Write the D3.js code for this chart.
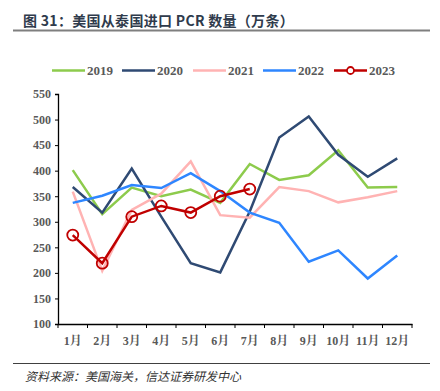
<!DOCTYPE html>
<html><head><meta charset="utf-8">
<script src="https://cdn.jsdelivr.net/npm/d3@7"></script>
<style>body{margin:0;background:#fff}</style>
</head><body>
<script>
const months = ["1月","2月","3月","4月","5月","6月","7月","8月","9月","10月","11月","12月"];
const years = ["2019","2020","2021","2022","2023"];
const colors = ["#8DCB4C","#2F4A73","#FFB3B3","#2E86FF","#C00000"];
const v2019 = [401,315,367,350,363,337,413,382,391,440,367,368];
const v2020 = [368,318,404,310,219,201,320,465,506,431,388,424];
const v2021 = [359,204,323,355,418,313,308,368,360,338,348,360];
const v2022 = [337,351,372,366,395,360,318,298,222,244,189,234];
const v2023 = [274,219,310,331,318,350,364];
const yTicks = [100,150,200,250,300,350,400,450,500,550];
const series = [v2019,v2020,v2021,v2022,v2023];

const W=440,H=391;
const svg=d3.select("body").append("svg").attr("width",W).attr("height",H);
const serif='"Liberation Serif","Times New Roman","Noto Serif CJK SC","Noto Sans CJK SC",serif';

svg.append("text").attr("x",23).attr("y",26).attr("font-family",'"Noto Sans CJK SC",sans-serif')
  .attr("font-weight","bold").attr("font-size",14).attr("letter-spacing",0.3).attr("fill","#2F3B4C")
  .text("图 31：美国从泰国进口 PCR 数量（万条）");
svg.append("line").attr("x1",13).attr("x2",430).attr("y1",30.5).attr("y2",30.5).attr("stroke","#7F7F7F").attr("stroke-width",2);
svg.append("line").attr("x1",13).attr("x2",430).attr("y1",363.5).attr("y2",363.5).attr("stroke","#404040").attr("stroke-width",1);
svg.append("text").attr("x",25).attr("y",381).attr("font-family",'"Noto Sans CJK SC",sans-serif')
  .attr("font-style","italic").attr("font-size",12).attr("fill","#333")
  .text("资料来源：美国海关，信达证券研发中心");

const x=d3.scaleBand().domain(months).range([58,412]);
const y=d3.scaleLinear().domain([100,550]).range([324,94]);

const gy=svg.append("g").attr("transform","translate(58,0)").call(d3.axisLeft(y).tickValues(yTicks).tickSize(3).tickPadding(4));
const gx=svg.append("g").attr("transform","translate(0,324)").call(d3.axisBottom(x).tickSize(0).tickPadding(12));
const bounds=months.map(m=>x(m)).concat([412]);
gx.selectAll(".bt").data(bounds).enter().append("line").attr("x1",d=>d).attr("x2",d=>d).attr("y1",0).attr("y2",4).attr("stroke","#000");
[gy,gx].forEach(g=>{g.select(".domain").attr("stroke","#000").attr("stroke-width",1.3);
  g.selectAll("text").attr("font-family",serif).attr("font-weight","bold").attr("font-size",12).attr("fill","#595959");
  g.selectAll(".tick line").attr("stroke","#000");});

const line=d3.line().x((d,i)=>x(months[i])+x.bandwidth()/2).y(d=>y(d));
series.forEach((s,k)=>{
  svg.append("path").datum(s).attr("d",line).attr("fill","none").attr("stroke",colors[k]).attr("stroke-width",2.5);
});
svg.selectAll(".m").data(v2023).enter().append("circle")
  .attr("cx",(d,i)=>x(months[i])+x.bandwidth()/2).attr("cy",d=>y(d)).attr("r",5.5)
  .attr("fill","none").attr("stroke","#C00000").attr("stroke-width",1.8);

const lx=[52,122,193,263,334];
years.forEach((yr,k)=>{
  const g=svg.append("g");
  g.append("line").attr("x1",lx[k]).attr("x2",lx[k]+33).attr("y1",70.5).attr("y2",70.5).attr("stroke",colors[k]).attr("stroke-width",2.5);
  if(k===4) g.append("circle").attr("cx",lx[k]+16.5).attr("cy",70.5).attr("r",3.5).attr("fill","#fff").attr("stroke",colors[k]).attr("stroke-width",1.8);
  g.append("text").attr("x",lx[k]+35).attr("y",75).attr("font-family",serif).attr("font-weight","bold").attr("font-size",13).attr("fill","#595959").text(yr);
});
</script>
</body></html>
